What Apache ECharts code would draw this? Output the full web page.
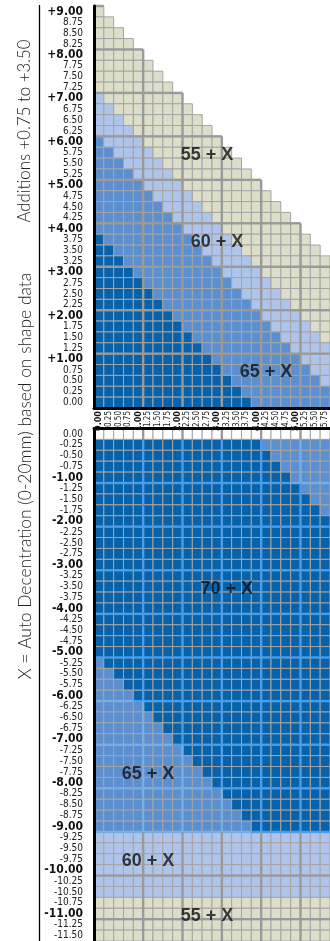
<!DOCTYPE html>
<html>
<head>
<meta charset="utf-8">
<script src="https://cdn.jsdelivr.net/npm/echarts@6/dist/echarts.min.js"></script>
<style>
html, body { margin: 0; padding: 0; background: #fff; }
#container { width: 330px; height: 941px; }
</style>
</head>
<body>
<div id="container"></div>
<script>
var dom = document.getElementById('container');
var myChart = echarts.init(dom);

// cylinder columns (shared by both grids)
var cylinders = ['0.00','0.25','0.50','0.75','1.00','1.25','1.50','1.75','2.00','2.25','2.50','2.75',
                 '3.00','3.25','3.50','3.75','4.00','4.25','4.50','4.75','5.00','5.25','5.50','5.75'];

// sphere rows, top to bottom
var sphTop = ['9.00','8.75','8.50','8.25','8.00','7.75','7.50','7.25','7.00','6.75','6.50','6.25',
              '6.00','5.75','5.50','5.25','5.00','4.75','4.50','4.25','4.00','3.75','3.50','3.25',
              '3.00','2.75','2.50','2.25','2.00','1.75','1.50','1.25','1.00','0.75','0.50','0.25','0.00'];
var sphBot = ['0.00','-0.25','-0.50','-0.75','-1.00','-1.25','-1.50','-1.75','-2.00','-2.25','-2.50','-2.75',
              '-3.00','-3.25','-3.50','-3.75','-4.00','-4.25','-4.50','-4.75','-5.00','-5.25','-5.50','-5.75',
              '-6.00','-6.25','-6.50','-6.75','-7.00','-7.25','-7.50','-7.75','-8.00','-8.25','-8.50','-8.75',
              '-9.00','-9.25','-9.50','-9.75','-10.00','-10.25','-10.50','-10.75','-11.00','-11.25','-11.50'];

// bands: D = 70 + X, M = 65 + X, L = 60 + X, B = 55 + X, W = empty
var bandCodes = ['D', 'M', 'L', 'B', 'W'];
var bandColors = ['#0862aa', '#5b8fd0', '#afc4ea', '#dcdec9', '#ffffff'];

// each row: runs of cells from the left, band letter + number of cells
var topRows = [
  'B1','B2','B3','B4','B5','B6','B7','B8',
  'L1 B8','L2 B8','L3 B8','L4 B8',
  'M1 L4 B8','M2 L4 B8','M3 L4 B8','M4 L4 B8','M5 L4 B8','M6 L4 B8','M7 L4 B8','M8 L4 B8','M9 L4 B8',
  'D1 M9 L4 B8','D2 M9 L4 B8','D3 M9 L4 B8','D4 M9 L4 B7','D5 M9 L4 B6','D6 M9 L4 B5','D7 M9 L4 B4',
  'D8 M9 L4 B3','D9 M9 L4 B2','D10 M9 L4 B1','D11 M9 L4','D12 M9 L3','D13 M9 L2','D14 M9 L1','D15 M9','D16 M8'
];
var botRows = [
  'W24',
  'D17 M7','D18 M6','D19 M5','D20 M4','D21 M3','D22 M2','D23 M1',
  'D24','D24','D24','D24','D24','D24','D24','D24','D24','D24','D24','D24','D24',
  'M1 D23','M2 D22','M3 D21','M4 D20','M5 D19','M6 D18','M7 D17','M8 D16',
  'M9 D15','M10 D14','M11 D13','M12 D12','M13 D11','M14 D10','M15 D9','M16 D8',
  'L24','L24','L24','L24','L24','L24',
  'B24','B24','B24','B24'
];

// zone captions
var topLabelText = ['55 + X', '60 + X', '65 + X'];
var topLabelCyl  = ['2.75', '3.00', '4.25'];
var topLabelSph  = ['5.75', '3.75', '0.75'];
var botLabelText = ['70 + X', '65 + X', '60 + X', '55 + X'];
var botLabelCyl  = ['3.25', '1.25', '1.25', '2.75'];
var botLabelSph  = ['-3.50', '-7.75', '-9.75', '-11.00'];

function buildCells(rows) {
  var out = [];
  for (var r = 0; r < rows.length; r++) {
    var runs = rows[r].split(' ');
    var c = 0;
    for (var i = 0; i < runs.length; i++) {
      var b = bandCodes.indexOf(runs[i].charAt(0));
      var n = parseInt(runs[i].substring(1), 10);
      for (var k = 0; k < n; k++) {
        out.push([c, r, b]);
        c++;
      }
    }
  }
  return out;
}

var topCells = buildCells(topRows);
var botCells = buildCells(botRows);

function isWhole(v) {
  var n = Math.abs(parseFloat(v));
  return n > 0 && n % 1 === 0;
}

function cellRender(params, api) {
  var pt = api.coord([api.value(0), api.value(1)]);
  var sz = api.size([1, 1]);
  return {
    type: 'rect',
    shape: { x: pt[0] - sz[0] / 2, y: pt[1] - sz[1] / 2, width: sz[0], height: sz[1] },
    style: { fill: bandColors[api.value(2)], stroke: '#a4a4a4', lineWidth: 1 }
  };
}

// heavier lines after each whole dioptre
function thickRender(sph, side, tinted) {
  return function (params, api) {
    var c = api.value(0), r = api.value(1), b = api.value(2);
    var pt = api.coord([c, r]);
    var sz = api.size([1, 1]);
    var x0 = pt[0] - sz[0] / 2, x1 = pt[0] + sz[0] / 2;
    var y0 = pt[1] - sz[1] / 2, y1 = pt[1] + sz[1] / 2;
    var col = '#9a9a9a';
    if (tinted && b === 0) col = '#4a9de6';
    if (tinted && b === 1) col = '#7aaee2';
    var kids = [];
    if (isWhole(cylinders[c])) {
      kids.push({ type: 'line', shape: { x1: x1, y1: y0, x2: x1, y2: y1 },
                  style: { stroke: col, lineWidth: 2.4 } });
    }
    if (isWhole(sph[r])) {
      var yy = side === 'top' ? y0 : y1;
      kids.push({ type: 'line', shape: { x1: x0, y1: yy, x2: x1, y2: yy },
                  style: { stroke: col, lineWidth: 2.4 } });
    }
    return { type: 'group', children: kids };
  };
}

var narrow = "'Liberation Sans Narrow','DejaVu Sans Condensed','Arial Narrow',sans-serif";

function sphLabel(v) {
  var n = parseFloat(v);
  if (n !== 0 && n % 1 === 0) return '{b|' + (n > 0 ? '+' : '') + v + '}';
  return '{n|' + v + '}';
}
function cylLabel(v) {
  return parseFloat(v) % 1 === 0 ? '{b|' + v + '}' : '{n|' + v + '}';
}

function labelData(texts, cyls, sphs) {
  return texts.map(function (t, i) {
    return { name: t, value: [cyls[i], sphs[i]] };
  });
}

var blackLine = { show: true, onZero: false, lineStyle: { color: '#000', width: 3 } };
var zoneLabel = {
  show: true, position: 'inside', formatter: '{b}', offset: [0, 2],
  fontFamily: "'Liberation Sans', Arial, sans-serif", fontWeight: 'bold', fontSize: 18, color: '#111'
};

var option = {
  animation: false,
  grid: [
    { left: 94, top: 6, width: 236, height: 402 },
    { left: 94, top: 428.5, width: 236, height: 513 }
  ],
  xAxis: [
    {
      gridIndex: 0, type: 'category', data: cylinders, position: 'bottom', z: 6,
      axisLine: blackLine, axisTick: { show: false }, splitLine: { show: false },
      axisLabel: {
        interval: 0, rotate: 90, margin: 3, formatter: cylLabel,
        rich: {
          b: { fontFamily: narrow, fontSize: 9, fontWeight: 'bold', color: '#111' },
          n: { fontFamily: narrow, fontSize: 8, color: '#222' }
        }
      }
    },
    {
      gridIndex: 1, type: 'category', data: cylinders, position: 'top', z: 6,
      axisLine: blackLine, axisTick: { show: false }, axisLabel: { show: false }, splitLine: { show: false }
    }
  ],
  yAxis: [
    {
      gridIndex: 0, type: 'category', data: sphTop, inverse: true, z: 6,
      axisLine: blackLine, axisTick: { show: false }, splitLine: { show: false },
      axisLabel: {
        interval: 0, margin: 11, formatter: sphLabel,
        rich: {
          b: { fontFamily: narrow, fontSize: 12, fontWeight: 'bold', color: '#111' },
          n: { fontFamily: narrow, fontSize: 10, color: '#222' }
        }
      }
    },
    {
      gridIndex: 1, type: 'category', data: sphBot, inverse: true, z: 6,
      axisLine: blackLine, axisTick: { show: false }, splitLine: { show: false },
      axisLabel: {
        interval: 0, margin: 11, formatter: sphLabel,
        rich: {
          b: { fontFamily: narrow, fontSize: 12, fontWeight: 'bold', color: '#111' },
          n: { fontFamily: narrow, fontSize: 10, color: '#222' }
        }
      }
    }
  ],
  series: [
    { type: 'custom', xAxisIndex: 0, yAxisIndex: 0, data: topCells, encode: { x: 0, y: 1 },
      renderItem: cellRender, z: 2 },
    { type: 'custom', xAxisIndex: 0, yAxisIndex: 0, data: topCells, encode: { x: 0, y: 1 },
      renderItem: thickRender(sphTop, 'top', false), z: 3 },
    { type: 'custom', xAxisIndex: 1, yAxisIndex: 1, data: botCells, encode: { x: 0, y: 1 },
      renderItem: cellRender, z: 2 },
    { type: 'custom', xAxisIndex: 1, yAxisIndex: 1, data: botCells, encode: { x: 0, y: 1 },
      renderItem: thickRender(sphBot, 'bottom', true), z: 3 },
    { type: 'scatter', xAxisIndex: 0, yAxisIndex: 0, symbolSize: 0, z: 8,
      data: labelData(topLabelText, topLabelCyl, topLabelSph), label: zoneLabel },
    { type: 'scatter', xAxisIndex: 1, yAxisIndex: 1, symbolSize: 0, z: 8,
      data: labelData(botLabelText, botLabelCyl, botLabelSph), label: zoneLabel }
  ],
  graphic: [
    { type: 'line', shape: { x1: 39.5, y1: 5, x2: 39.5, y2: 941 }, style: { stroke: '#000', lineWidth: 1.3 } },
    { type: 'text', x: 25, y: 131, rotation: Math.PI / 2,
      style: { text: 'Additions +0.75 to +3.50', fontFamily: 'Lato, sans-serif', fontWeight: 300, fontSize: 16.8,
               fill: '#222', align: 'center', verticalAlign: 'middle' } },
    { type: 'text', x: 25, y: 476, rotation: Math.PI / 2,
      style: { text: 'X = Auto Decentration (0-20mm) based on shape data', fontFamily: 'Lato, sans-serif', fontWeight: 300, fontSize: 17.4,
               fill: '#222', align: 'center', verticalAlign: 'middle' } }
  ]
};

myChart.setOption(option);
</script>
</body>
</html>
